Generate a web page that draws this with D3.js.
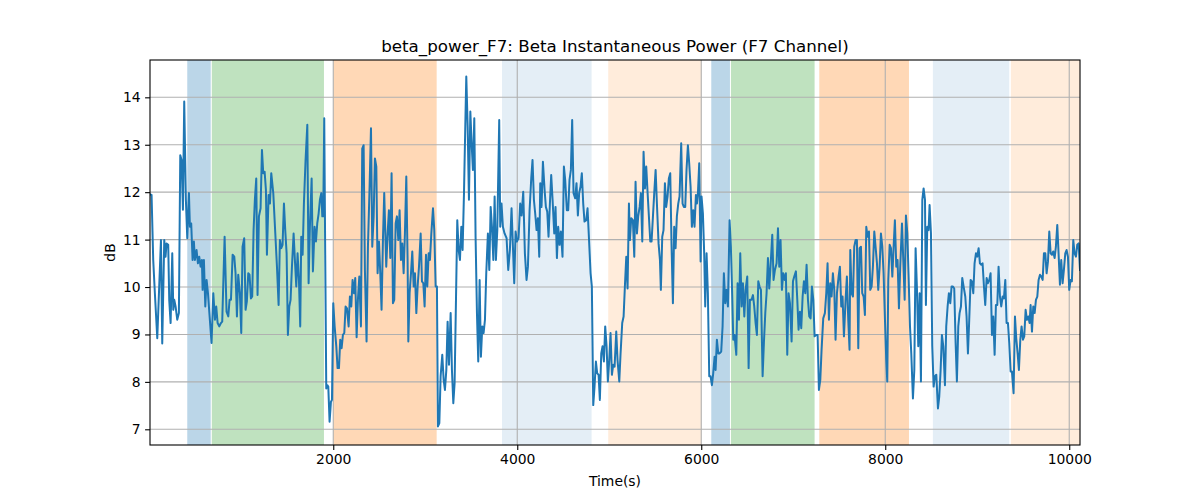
<!DOCTYPE html>
<html>
<head>
<meta charset="utf-8">
<script src="https://cdn.jsdelivr.net/npm/d3@7"></script>
<style>
  html, body { margin: 0; padding: 0; background: #fff; }
  svg { display: block; font-family: "DejaVu Sans", sans-serif; }
</style>
</head>
<body>
<svg id="chart" width="1200" height="500"></svg>
<script>
// ---- data ----
const chartTitle = "beta_power_F7: Beta Instantaneous Power (F7 Channel)";
const xLabel = "Time(s)";
const yLabel = "dB";
const xTicks = [2000, 4000, 6000, 8000, 10000];
const yTicks = [7, 8, 9, 10, 11, 12, 13, 14];
const xDomain = [8, 10117];
const yDomain = [6.669, 14.787];

const bandStarts = [413, 680, 2000, 3834, 4989, 6109, 6323, 7283, 8518, 9366];
const bandEnds   = [668, 1899, 3124, 4808, 6004, 6312, 7232, 8258, 9348, 10117];
const bandKinds  = ["blue", "green", "orange", "lightblue", "lightorange",
                    "blue", "green", "orange", "lightblue", "lightorange"];

// [time (s), power (dB)]
const betaSeries = [
[12,11.95],[25,11.94],[43,10.57],[61,9.87],[87,8.92],[127,10.99],[141,8.81],[163,10.99],[177,10.64],[188,10.92],[206,10.89],[217,9.73],[232,9.24],[250,10.71],[261,9.52],[272,9.73],[286,9.59],[304,9.31],[322,9.45],[337,12.78],[351,12.68],[366,11.63],[380,13.91],[398,11.84],[413,11.03],[431,11.98],[442,11.27],[456,11.34],[471,10.57],[485,10.96],[496,10.57],[514,10.78],[529,10.50],[543,10.64],[558,10.43],[572,10.57],[580,9.94],[594,10.57],[609,9.59],[623,10.15],[638,9.87],[656,9.38],[677,8.82],[696,9.87],[714,9.31],[728,9.59],[743,9.24],[761,9.17],[779,9.24],[793,9.27],[819,11.06],[840,9.48],[859,9.38],[873,9.73],[888,9.73],[906,10.68],[924,10.64],[938,10.29],[953,9.38],[967,10.26],[985,9.87],[1000,9.03],[1014,10.85],[1032,11.03],[1047,9.52],[1061,9.70],[1076,10.29],[1090,10.26],[1105,9.76],[1119,9.80],[1134,11.20],[1148,11.84],[1163,12.29],[1177,9.83],[1192,11.49],[1210,11.66],[1225,12.89],[1239,12.40],[1254,12.43],[1268,12.05],
[1279,10.68],[1297,11.94],[1312,11.76],[1326,12.40],[1348,11.98],[1370,11.13],[1388,10.43],[1406,9.62],[1420,10.99],[1435,10.82],[1449,10.89],[1464,11.76],[1478,11.20],[1493,10.71],[1507,8.99],[1522,9.59],[1536,9.73],[1551,10.43],[1569,11.13],[1583,10.57],[1598,10.01],[1612,10.71],[1627,10.15],[1641,9.17],[1652,11.06],[1667,10.68],[1681,11.76],[1699,12.68],[1718,13.42],[1732,10.08],[1746,11.27],[1765,12.29],[1779,10.33],[1797,11.27],[1812,10.96],[1826,11.34],[1841,11.55],[1855,11.84],[1870,11.98],[1881,11.49],[1891,11.49],[1902,13.56],[1913,10.57],[1924,7.86],[1935,7.93],[1946,7.90],[1960,7.16],[1975,7.58],[1986,7.62],[2000,9.66],[2015,9.17],[2033,8.75],[2047,8.29],[2062,8.29],[2076,8.89],[2091,8.71],[2105,8.99],[2120,9.03],[2134,9.59],[2149,9.55],[2167,9.17],[2181,9.80],[2196,9.59],[2210,10.15],[2225,9.87],[2239,10.19],[2254,8.94],[2268,9.73],[2283,10.22],[2301,9.17],[2315,12.92],[2330,12.99],[2344,10.36],[2362,8.85],[2377,10.85],[2395,12.12],[2410,13.35],[2424,10.85],[2439,11.49],[2453,12.71],[2468,12.54],[2482,10.29],[2497,10.96],[2511,10.29],[2525,9.52],[2540,10.99],[2554,11.98],
[2576,10.43],[2591,11.13],[2605,11.62],[2620,10.61],[2634,12.40],[2649,9.66],[2663,9.73],[2678,11.34],[2692,11.49],[2707,10.99],[2721,11.62],[2736,10.57],[2750,10.92],[2765,10.29],[2779,11.13],[2794,12.33],[2808,10.57],[2816,8.85],[2830,9.87],[2845,10.29],[2859,10.75],[2874,10.01],[2888,10.29],[2903,9.45],[2917,10.01],[2932,10.43],[2950,11.13],[2964,10.12],[2979,10.08],[2993,9.59],[3008,10.68],[3022,10.01],[3037,10.71],[3051,10.57],[3066,11.13],[3084,11.66],[3098,11.20],[3113,10.01],[3127,10.01],[3138,7.06],[3153,7.13],[3167,8.12],[3185,8.57],[3200,8.04],[3214,7.83],[3229,8.25],[3243,9.27],[3258,8.36],[3276,9.45],[3290,8.25],[3305,7.55],[3319,7.97],[3334,9.73],[3348,11.41],[3363,10.78],[3377,10.57],[3392,11.27],[3406,10.78],[3421,11.98],[3435,13.38],[3446,14.44],[3461,13.38],[3475,11.84],[3490,13.70],[3504,13.03],[3518,12.47],[3533,13.56],[3547,11.06],[3562,9.45],[3576,8.43],[3591,10.15],[3605,8.53],[3620,9.17],[3634,9.03],[3649,9.31],[3663,10.29],[3681,11.13],[3696,10.36],[3711,11.69],[3725,11.27],[3740,10.57],[3754,11.91],[3768,10.57],[3783,11.20],
[3804,13.52],[3815,11.27],[3829,11.76],[3844,11.27],[3862,11.13],[3884,11.03],[3902,10.36],[3920,10.78],[3938,11.66],[3953,10.85],[3967,10.08],[3982,11.17],[3996,10.96],[4014,11.03],[4032,11.76],[4047,11.51],[4065,12.01],[4083,10.71],[4101,10.15],[4116,10.43],[4134,11.62],[4152,12.29],[4166,12.68],[4181,11.84],[4195,11.55],[4210,11.20],[4224,11.45],[4239,10.64],[4250,12.19],[4264,11.69],[4279,12.64],[4297,12.05],[4311,11.69],[4326,11.59],[4340,11.06],[4355,11.76],[4369,12.36],[4384,11.84],[4402,11.13],[4416,11.69],[4431,10.61],[4445,11.27],[4460,10.89],[4474,11.17],[4492,10.64],[4507,12.54],[4521,12.26],[4539,11.62],[4554,11.62],[4568,12.26],[4583,12.47],[4597,13.52],[4612,11.98],[4630,11.87],[4644,12.19],[4659,11.51],[4673,11.98],[4688,12.12],[4702,12.40],[4717,11.76],[4731,11.38],[4750,11.41],[4764,11.66],[4782,10.92],[4797,10.29],[4811,10.01],[4826,7.51],[4840,7.90],[4855,8.43],[4869,8.18],[4884,8.15],[4898,7.62],[4913,8.60],[4927,8.75],[4942,8.43],[4956,9.17],[4971,8.75],[4985,8.01],[5000,8.46],[5014,9.03],[5029,8.15],[5043,8.36],[5058,8.32],
[5076,9.06],[5090,8.46],[5109,8.01],[5123,8.60],[5141,9.24],[5156,9.38],[5170,10.01],[5185,10.64],[5199,9.97],[5214,11.76],[5225,10.99],[5239,11.45],[5257,11.41],[5272,10.64],[5286,12.22],[5301,11.13],[5315,11.49],[5330,11.69],[5344,11.98],[5359,10.96],[5373,12.85],[5388,12.08],[5402,12.54],[5417,11.98],[5431,11.49],[5446,10.96],[5460,10.96],[5475,11.49],[5489,11.98],[5504,12.47],[5518,11.76],[5536,10.92],[5551,10.57],[5561,9.94],[5576,11.06],[5590,11.20],[5605,12.19],[5619,11.69],[5634,11.91],[5648,12.29],[5663,12.40],[5677,10.89],[5692,9.66],[5706,11.27],[5721,10.82],[5735,11.49],[5750,11.76],[5764,11.91],[5782,13.03],[5797,11.76],[5811,11.69],[5826,11.69],[5840,12.47],[5855,12.99],[5869,12.61],[5884,12.12],[5898,11.27],[5913,11.62],[5927,11.27],[5942,11.94],[5953,11.76],[5964,11.98],[5978,12.61],[5993,10.54],[6003,11.91],[6018,11.55],[6032,10.71],[6043,9.59],[6058,10.71],[6072,9.87],[6087,8.12],[6101,8.12],[6116,7.93],[6130,8.18],[6145,8.53],[6156,8.25],[6170,8.89],[6185,8.60],[6199,8.60],[6217,8.64],[6232,9.17],[6246,10.29],[6261,9.66],[6275,9.94],[6290,9.59],[6308,11.41],[6322,10.85],[6337,9.80],
[6348,8.89],[6362,8.99],[6381,8.57],[6395,10.08],[6410,9.31],[6424,10.71],[6439,9.59],[6453,10.08],[6468,9.38],[6482,9.94],[6500,10.22],[6515,8.29],[6529,9.73],[6547,9.73],[6562,9.83],[6576,9.59],[6591,9.24],[6605,8.99],[6620,10.12],[6634,10.01],[6649,9.94],[6667,8.12],[6681,8.82],[6696,9.45],[6710,9.87],[6725,10.61],[6739,9.97],[6757,10.57],[6772,11.10],[6786,10.15],[6801,10.36],[6819,10.50],[6834,11.24],[6848,10.43],[6862,10.99],[6877,9.94],[6891,10.29],[6906,10.15],[6920,10.29],[6935,8.57],[6949,9.87],[6964,9.66],[6982,8.85],[6997,10.12],[7011,10.22],[7029,10.33],[7044,9.73],[7058,9.10],[7073,9.48],[7087,9.13],[7102,9.80],[7116,10.12],[7131,9.87],[7145,10.47],[7160,9.73],[7174,9.38],[7189,9.34],[7203,10.01],[7218,9.73],[7232,8.96],[7250,8.99],[7265,8.99],[7279,7.83],[7294,8.04],[7308,8.68],[7326,9.34],[7344,9.45],[7359,9.87],[7373,10.50],[7388,9.31],[7402,10.08],[7417,9.80],[7431,10.29],[7446,9.94],[7460,8.89],[7475,9.87],[7493,10.22],[7507,10.43],[7522,9.59],[7536,9.80],[7551,8.96],[7569,9.73],[7583,10.22],[7598,9.31],[7612,8.68],
[7620,10.78],[7634,9.87],[7649,9.80],[7663,10.85],[7678,10.99],[7692,10.99],[7707,8.71],[7721,10.82],[7736,10.85],[7750,9.87],[7765,9.80],[7779,9.41],[7794,11.27],[7808,11.06],[7823,11.17],[7837,9.94],[7852,10.01],[7866,10.43],[7881,11.17],[7895,10.85],[7910,10.50],[7924,9.94],[7939,10.43],[7953,11.13],[7968,10.85],[7982,10.29],[7997,9.31],[8011,8.46],[8022,8.01],[8033,10.15],[8048,10.89],[8062,10.82],[8077,10.22],[8091,10.85],[8105,11.41],[8120,10.43],[8134,10.57],[8149,9.55],[8163,10.43],[8182,11.34],[8196,10.57],[8211,9.73],[8225,11.51],[8240,11.13],[8254,10.22],[8269,9.17],[8283,8.60],[8301,7.65],[8316,8.25],[8330,10.82],[8345,9.94],[8359,8.75],[8374,9.87],[8388,8.01],[8403,11.84],[8417,12.08],[8432,11.84],[8442,9.62],[8457,11.27],[8471,11.20],[8482,11.73],[8497,11.13],[8511,8.75],[8526,7.90],[8540,8.12],[8555,8.15],[8573,7.44],[8587,7.69],[8602,8.25],[8616,8.99],[8631,8.75],[8649,7.93],[8663,9.17],[8678,9.59],[8692,9.87],[8707,9.66],[8721,10.01],[8736,10.01],[8750,9.97],[8765,8.82],[8779,8.01],[8794,9.17],[8808,9.45],[8823,9.59],[8837,10.19],[8852,10.01],
[8870,9.80],[8884,9.38],[8899,8.60],[8913,9.31],[8928,10.15],[8942,10.12],[8957,9.87],[8971,10.50],[8986,10.71],[9000,10.64],[9015,10.82],[9029,10.50],[9044,10.47],[9058,10.50],[9073,10.01],[9087,9.62],[9102,10.19],[9116,10.08],[9131,10.15],[9145,10.29],[9160,8.99],[9174,9.38],[9189,8.57],[9203,9.62],[9218,9.62],[9232,10.43],[9247,9.80],[9261,9.59],[9276,9.80],[9290,9.76],[9305,10.15],[9319,9.24],[9334,9.24],[9348,8.82],[9363,8.22],[9377,8.22],[9395,7.76],[9410,9.38],[9424,8.92],[9439,8.60],[9453,8.25],[9468,8.89],[9482,9.17],[9497,8.89],[9511,8.96],[9526,9.52],[9540,9.31],[9555,9.38],[9569,9.24],[9580,9.62],[9595,9.06],[9609,9.59],[9624,9.45],[9638,9.73],[9653,9.80],[9667,10.15],[9682,10.26],[9696,10.22],[9711,10.15],[9725,10.71],[9740,10.71],[9754,10.29],[9769,10.54],[9783,11.17],[9798,10.71],[9812,10.68],[9826,10.75],[9841,10.61],[9855,10.85],[9870,11.31],[9884,10.71],[9899,10.05],[9913,10.57],[9928,10.08],[9942,10.36],[9957,10.71],[9971,10.78],[9986,10.64],[10000,9.94],[10015,10.15],[10029,10.12],[10044,10.99],[10058,10.71],[10073,10.64],[10087,10.89],[10102,10.92],[10117,10.36]
];

// ---- styles ----
const bandStyle = {
  blue:        { fill: "#1f77b4", opacity: 0.3 },
  green:       { fill: "#2ca02c", opacity: 0.3 },
  orange:      { fill: "#ff7f0e", opacity: 0.3 },
  lightblue:   { fill: "#1f77b4", opacity: 0.12 },
  lightorange: { fill: "#ff7f0e", opacity: 0.15 }
};

const margin = { left: 150, top: 60, right: 120, bottom: 55 };
const W = 1200, H = 500;
const iw = W - margin.left - margin.right;   // 930
const ih = H - margin.top - margin.bottom;   // 385

const svg = d3.select("#chart");
const g = svg.append("g").attr("transform", `translate(${margin.left},${margin.top})`);

const x = d3.scaleLinear().domain(xDomain).range([0, iw]);
const y = d3.scaleLinear().domain(yDomain).range([ih, 0]);

svg.append("defs").append("clipPath").attr("id", "plotclip")
  .append("rect").attr("width", iw).attr("height", ih);

const plot = g.append("g").attr("clip-path", "url(#plotclip)");

// bands
const bands = bandStarts.map((s, i) => ({ s, e: bandEnds[i], k: bandKinds[i] }));
plot.selectAll("rect.band").data(bands).enter().append("rect")
  .attr("class", "band")
  .attr("x", d => x(d.s))
  .attr("width", d => x(d.e) - x(d.s))
  .attr("y", 0).attr("height", ih)
  .attr("fill", d => bandStyle[d.k].fill)
  .attr("fill-opacity", d => bandStyle[d.k].opacity);

// grid
const grid = plot.append("g");
grid.selectAll("line.gx").data(xTicks).enter().append("line")
  .attr("x1", d => x(d)).attr("x2", d => x(d))
  .attr("y1", 0).attr("y2", ih)
  .attr("stroke", "#b0b0b0").attr("stroke-width", 1.1);
grid.selectAll("line.gy").data(yTicks).enter().append("line")
  .attr("x1", 0).attr("x2", iw)
  .attr("y1", d => y(d)).attr("y2", d => y(d))
  .attr("stroke", "#b0b0b0").attr("stroke-width", 1.1);

// line
const line = d3.line().x(d => x(d[0])).y(d => y(d[1]));
plot.append("path").datum(betaSeries)
  .attr("d", line)
  .attr("fill", "none")
  .attr("stroke", "#1f77b4")
  .attr("stroke-width", 2)
  .attr("stroke-linejoin", "round")
  .attr("stroke-linecap", "square");

// axes
const xAxis = d3.axisBottom(x).tickValues(xTicks).tickFormat(d3.format("d")).tickSize(4.9).tickPadding(4.5);
const yAxis = d3.axisLeft(y).tickValues(yTicks).tickFormat(d3.format("d")).tickSize(4.9).tickPadding(4.5);

const gx = g.append("g").attr("transform", `translate(0,${ih})`).call(xAxis);
const gy = g.append("g").call(yAxis);
[gx, gy].forEach(a => {
  a.select(".domain").remove();
  a.selectAll(".tick line").attr("stroke", "#000").attr("stroke-width", 1.1);
  a.selectAll(".tick text").attr("fill", "#000").style("font-size", "13.9px")
    .style("font-family", "'DejaVu Sans', sans-serif");
});

// frame
g.append("rect").attr("width", iw).attr("height", ih)
  .attr("fill", "none").attr("stroke", "#000").attr("stroke-width", 1.1);

// labels
svg.append("text").attr("x", margin.left + iw / 2).attr("y", 52)
  .attr("text-anchor", "middle").style("font-size", "16.7px").attr("fill", "#000")
  .text(chartTitle);
svg.append("text").attr("x", margin.left + iw / 2).attr("y", 486)
  .attr("text-anchor", "middle").style("font-size", "13.9px").attr("fill", "#000")
  .text(xLabel);
svg.append("text").attr("transform", `translate(115,${margin.top + ih / 2}) rotate(-90)`)
  .attr("text-anchor", "middle").style("font-size", "13.9px").attr("fill", "#000")
  .text(yLabel);
</script>
</body>
</html>
